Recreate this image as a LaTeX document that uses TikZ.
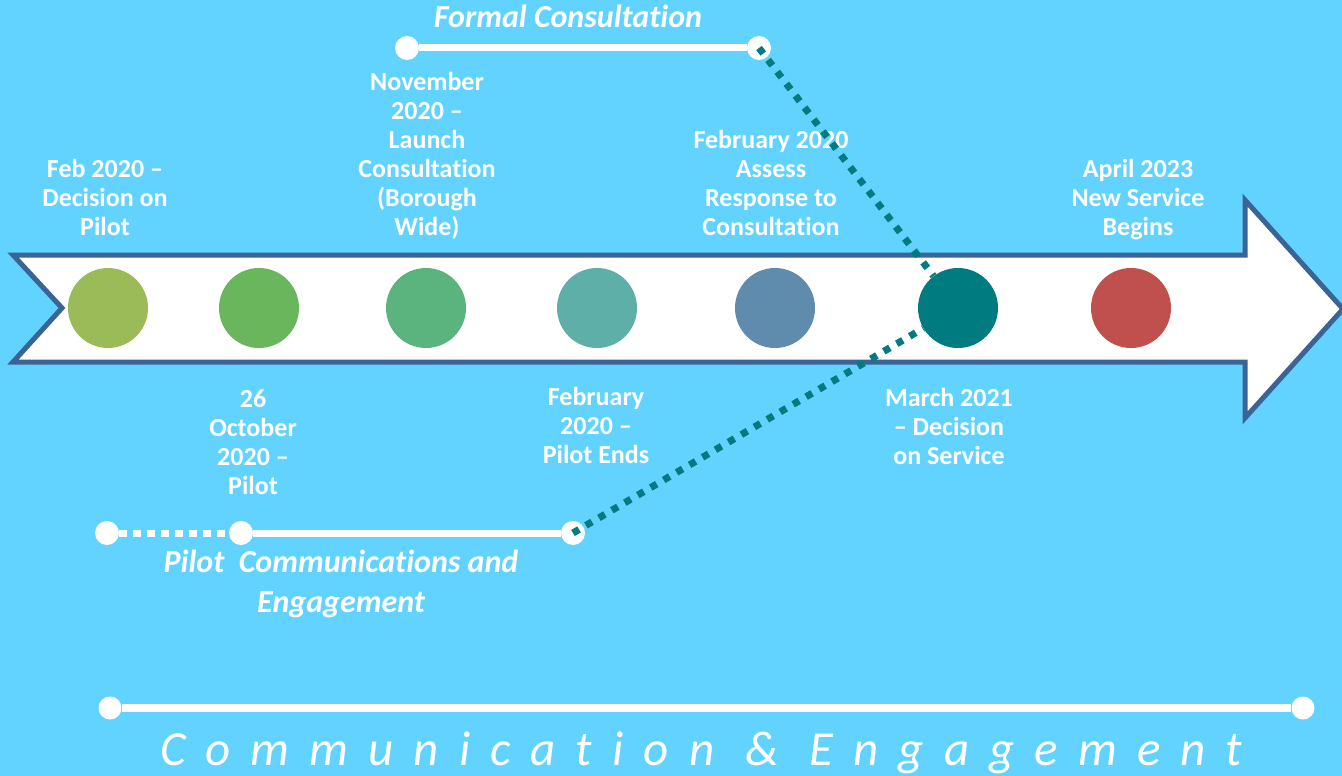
\documentclass[tikz,border=0pt]{standalone}
\usepackage{fontspec}
\setmainfont[Ligatures=NoCommon]{Carlito}
\usetikzlibrary{calc}
\definecolor{bgblue}{HTML}{62D3FF}
\definecolor{arrowline}{HTML}{3A6396}
\definecolor{cA}{HTML}{9BBB59}
\definecolor{cB}{HTML}{69B65C}
\definecolor{cC}{HTML}{5BB47D}
\definecolor{cD}{HTML}{5EAFA8}
\definecolor{cE}{HTML}{5F8CAD}
\definecolor{cF}{HTML}{007C80}
\definecolor{cG}{HTML}{C0504D}
\tikzset{
	milestone/.style={circle, minimum size=80pt, inner sep=0pt},
	lbl/.style={text=white, font=\bfseries\fontsize{26}{29}\selectfont, align=center, inner sep=0pt, anchor=north},
	phaselbl/.style={text=white, font=\bfseries\itshape\fontsize{32}{40}\selectfont, align=center, inner sep=0pt},
	stopdot/.style={circle, fill=white, minimum size=24pt, inner sep=0pt},
	track/.style={white, line width=7pt},
	tealdots/.style={draw=cF, line width=7pt, dash pattern=on 7pt off 8pt},
}

\begin{document}
\begin{tikzpicture}[x=1pt,y=-1pt]
		\fill[bgblue] (0,0) rectangle (1342,776);
		\useasboundingbox (0,0) rectangle (1342,776);
		
		% the big arrow
		\draw[arrowline, line width=5pt, fill=white, line join=miter] (13,255) -- (1245,255) -- (1245,200) -- (1343,309) -- (1245,418) -- (1245,362) -- (13,362) -- (62,308) -- cycle;
		
		\node[milestone, fill=cA] (m1) at (108,308) {};
		\node[milestone, fill=cB] (m2) at (259,308) {};
		\node[milestone, fill=cC] (m3) at (426,308) {};
		\node[milestone, fill=cD] (m4) at (597,308) {};
		\node[milestone, fill=cE] (m5) at (775,308) {};
		\node[milestone, fill=cF] (m6) at (958,308) {};
		\node[milestone, fill=cG] (m7) at (1131,308) {};
		
		% labels above the arrow
		\node[lbl] (feb20) at (105,159) {Feb 2020 --\\Decision on\\Pilot};
		\node[lbl] (nov20) at (427,72) {November\\2020 --\\Launch\\Consultation\\(Borough\\Wide)};
		\node[lbl] (febAssess) at (771,130) {February 2020\\Assess\\Response to\\Consultation};
		\node[lbl] (apr23) at (1138,159) {April 2023\\New Service\\Begins};
		% labels below the arrow
		\node[lbl] (oct20) at (253,390) {26\\October\\2020 --\\Pilot};
		\node[lbl] (febEnd) at (596,387) {February\\2020 --\\Pilot Ends};
		\node[lbl] (mar21) at (949,388) {March 2021\\-- Decision\\on Service};
		
		% formal consultation
		\node[stopdot] (fcA) at (407,48) {};
		\node[stopdot] (fcB) at (759,48) {};
		\draw[track] (fcA) -- (fcB);
		\node[phaselbl, anchor=base] (fcT) at (568,28) {Formal Consultation};
		
		% pilot communications
		\node[stopdot] (pcA) at (107,533) {};
		\node[stopdot] (pcB) at (241,533) {};
		\node[stopdot] (pcC) at (573,533) {};
		\draw[track, dash pattern=on 8pt off 6pt] (pcA) -- (pcB);
		\draw[track] (pcB) -- (pcC);
		\node[phaselbl, anchor=base] (pcT) at (341,612) {Pilot\ \ Communications and\\Engagement};
		
		% links to the decision
		\draw[tealdots] (fcB.center) -- (m6);
		\draw[tealdots] (pcC.center) -- (m6);
		
		% communication bar
		\node[stopdot, minimum size=23pt] (ceA) at (110,708) {};
		\node[stopdot, minimum size=23pt] (ceB) at (1303,708) {};
		\draw[track, line width=8pt] (ceA) -- (ceB);
		\node[text=white, inner sep=0pt, anchor=base, font=\itshape\fontsize{49}{60}\selectfont\addfontfeature{LetterSpace=41}] (ceT) at (701,765) {Communication \& Engagement};
\end{tikzpicture}
\end{document}
